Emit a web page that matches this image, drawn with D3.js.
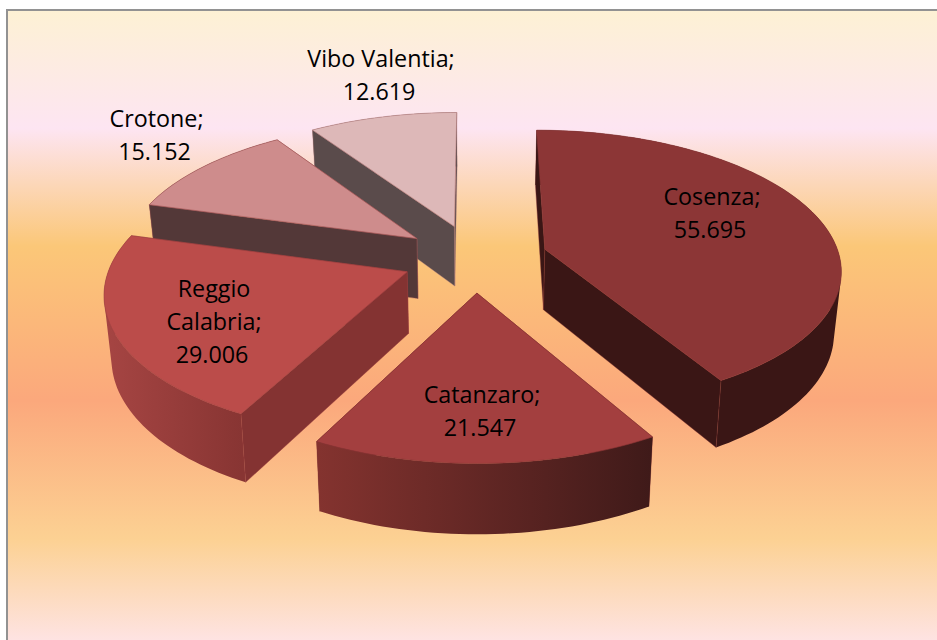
<!DOCTYPE html>
<html>
<head>
<meta charset="utf-8">
<script src="https://cdn.jsdelivr.net/npm/d3@7"></script>
<style>
html,body{margin:0;padding:0;background:#fff;overflow:hidden}
svg{display:block}
text{font-family:"Open Sans",sans-serif;font-size:23.3px;fill:#000}
</style>
</head>
<body>
<div id="chart"></div>
<script>
// --- data ---
const provinces = ["Cosenza","Catanzaro","Reggio Calabria","Crotone","Vibo Valentia"];
const values = [55695,21547,29006,15152,12619];
const valueLabels = ["55.695","21.547","29.006","15.152","12.619"];
const labelLines = [["Cosenza;"],["Catanzaro;"],["Reggio","Calabria;"],["Crotone;"],["Vibo Valentia;"]];

// --- styles ---
const topColors = ["#8C3636","#A33F3F","#BB4C4A","#CE8C8C","#DDB8B8"];
const cutColors = ["#3A1615","#5E2322","#843332","#533838","#5A4B4B"];
const rimColors = [["#3A1615","#3A1615"],["#84332F","#3F1A19"],["#A64543","#883533"],["#533838","#533838"],["#5A4B4B","#5A4B4B"]];
const strokeColors = ["#8C3636","#8A3434","#A04242","#A85858","#B98080"];

// --- layout ---
const W=937,H=640,CX=475,CY=258,R=295,EXPLODE=73,K=0.465,PERSP=2200,DEPTH=61,SQUEEZE=0.02;
const labelAt=[[712,205],[482,403],[214,297],[156.5,127],[381,67]];
const lineStep=33, valueShift=-2;

const svg=d3.select("#chart").append("svg").attr("width",W).attr("height",H);
const defs=svg.append("defs");

const bgStops=[[0,"#FDF1D4"],[0.188,"#FDE5F2"],[0.375,"#FBC778"],[0.62,"#FBA87C"],[0.84,"#FCD193"],[1,"#FEE3E2"]];
const bg=defs.append("linearGradient").attr("id","bg").attr("gradientUnits","userSpaceOnUse")
  .attr("x1",0).attr("y1",10).attr("x2",0).attr("y2",H);
bg.selectAll("stop").data(bgStops).join("stop").attr("offset",d=>d[0]).attr("stop-color",d=>d[1]);
svg.append("rect").attr("x",7).attr("y",10).attr("width",W+10).attr("height",H+10)
  .attr("fill","url(#bg)").attr("stroke","#929292").attr("stroke-width",2);

const pie=d3.pie().sort(null).startAngle(0).endAngle(2*Math.PI)(values);

// project a world point (X right, Y to viewer) at drop z
function proj(X,Y,z){
  const s=1/(1-Y/PERSP);
  const x=CX+X*s, y=CY+K*Y*s;
  const drop=z*DEPTH*(1+(s-1)*0.8);
  return [x+(CX-x)*SQUEEZE*z, y+drop];
}
const line=d3.line();

const order=[4,3,0,2,1];
order.forEach(i=>{
  const a=pie[i], mid=(a.startAngle+a.endAngle)/2;
  const ox=EXPLODE*Math.sin(mid), oy=-EXPLODE*Math.cos(mid);
  const pt=(ang,r,z)=>proj(ox+r*Math.sin(ang),oy-r*Math.cos(ang),z);
  const n=Math.max(14,Math.round((a.endAngle-a.startAngle)*40));
  const angs=d3.range(n+1).map(j=>a.startAngle+(a.endAngle-a.startAngle)*j/n);
  const g=svg.append("g").attr("class","slice").attr("data-name",provinces[i]);
  const st=strokeColors[i];
  const wall=(ang)=>line([pt(ang,0,0),pt(ang,R,0),pt(ang,R,1),pt(ang,0,1)])+"Z";
  const drawWall=(t)=>g.append("path").attr("d",wall(t)).attr("fill",cutColors[i]).attr("stroke",st).attr("stroke-width",0.4);

  const startFront=-Math.sin(a.startAngle)>1e-6, endFront=Math.sin(a.endAngle)>1e-6;
  if(!startFront) drawWall(a.startAngle);
  if(!endFront) drawWall(a.endAngle);

  // outer wall: quads wound the same way, so overlaps never cancel
  const xs=angs.map(t=>pt(t,R,0)[0]);
  const gid="rim"+i;
  const gr=defs.append("linearGradient").attr("id",gid).attr("gradientUnits","userSpaceOnUse")
    .attr("x1",d3.min(xs)).attr("x2",d3.max(xs)).attr("y1",0).attr("y2",0);
  gr.append("stop").attr("offset",0).attr("stop-color",rimColors[i][0]);
  gr.append("stop").attr("offset",1).attr("stop-color",rimColors[i][1]);
  const rimPath=d3.pairs(angs).map(([t0,t1])=>{
    const q=[pt(t0,R,0),pt(t1,R,0),pt(t1,R,1),pt(t0,R,1)];
    return line(d3.polygonArea(q)<0?q.slice().reverse():q)+"Z";
  }).join("");
  g.append("path").attr("d",rimPath).attr("fill",`url(#${gid})`);

  if(startFront) drawWall(a.startAngle);
  if(endFront) drawWall(a.endAngle);

  // top face
  const face=[pt(0,0,0)].concat(angs.map(t=>pt(t,R,0)));
  g.append("path").attr("d",line(face)+"Z").attr("fill",topColors[i]).attr("stroke",st).attr("stroke-width",0.6);
});

// labels
const labels=svg.append("g");
provinces.forEach((name,i)=>{
  const t=labels.append("text").attr("text-anchor","middle");
  labelLines[i].forEach((l,j)=>t.append("tspan").attr("x",labelAt[i][0]).attr("y",labelAt[i][1]+j*lineStep).text(l));
  t.append("tspan").attr("x",labelAt[i][0]+valueShift).attr("y",labelAt[i][1]+labelLines[i].length*lineStep).text(valueLabels[i]);
});
</script>
</body>
</html>
